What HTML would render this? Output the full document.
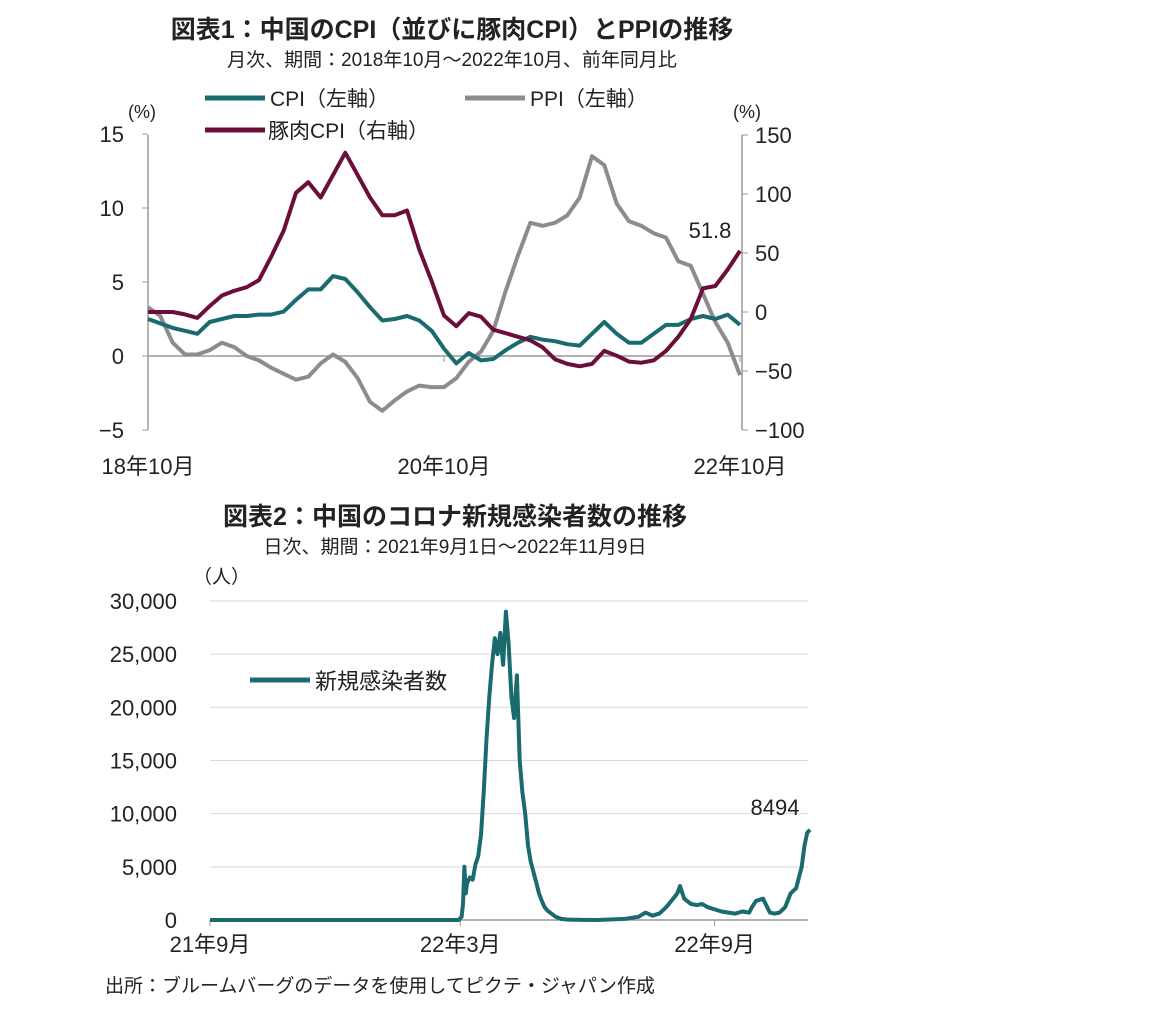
<!DOCTYPE html>
<html><head><meta charset="utf-8">
<style>
body{margin:0;background:#fff;}
svg text{font-family:"Liberation Sans","Noto Sans CJK JP",sans-serif;fill:#222;}
</style></head>
<body>
<svg id="svg" width="1152" height="1019" viewBox="0 0 1152 1019" xmlns="http://www.w3.org/2000/svg">
<text x="452" y="38" font-size="25" font-weight="bold" text-anchor="middle">図表1：中国のCPI（並びに豚肉CPI）とPPIの推移</text>
<text x="452" y="66" font-size="19" text-anchor="middle">月次、期間：2018年10月～2022年10月、前年同月比</text>
<line x1="205" y1="98" x2="265" y2="98" stroke="#1a6b6e" stroke-width="5"/>
<text x="270" y="106" font-size="21">CPI（左軸）</text>
<line x1="465" y1="98" x2="525" y2="98" stroke="#8c8c8c" stroke-width="5"/>
<text x="530" y="106" font-size="21">PPI（左軸）</text>
<line x1="205" y1="130" x2="265" y2="130" stroke="#6b0f3a" stroke-width="5"/>
<text x="268" y="138" font-size="21">豚肉CPI（右軸）</text>
<text x="128" y="118" font-size="18">(%)</text>
<text x="733" y="118" font-size="18">(%)</text>
<g id="c1"></g>
<text x="455" y="525" font-size="25" font-weight="bold" text-anchor="middle">図表2：中国のコロナ新規感染者数の推移</text>
<text x="455" y="553" font-size="19" text-anchor="middle">日次、期間：2021年9月1日～2022年11月9日</text>
<text x="193" y="583" font-size="19">（人）</text>
<line x1="250" y1="680" x2="310" y2="680" stroke="#1a6b6e" stroke-width="5"/>
<text x="315" y="689" font-size="22">新規感染者数</text>
<g id="c2"></g>
<text x="105" y="992" font-size="19">出所：ブルームバーグのデータを使用してピクテ・ジャパン作成</text>
</svg>
<script>
const months1 = 49;
const cpi = [2.5,2.2,1.9,1.7,1.5,2.3,2.5,2.7,2.7,2.8,2.8,3.0,3.8,4.5,4.5,5.4,5.2,4.3,3.3,2.4,2.5,2.7,2.4,1.7,0.5,-0.5,0.2,-0.3,-0.2,0.4,0.9,1.3,1.1,1.0,0.8,0.7,1.5,2.3,1.5,0.9,0.9,1.5,2.1,2.1,2.5,2.7,2.5,2.8,2.1];
const ppi = [3.3,2.7,0.9,0.1,0.1,0.4,0.9,0.6,0.0,-0.3,-0.8,-1.2,-1.6,-1.4,-0.5,0.1,-0.4,-1.5,-3.1,-3.7,-3.0,-2.4,-2.0,-2.1,-2.1,-1.5,-0.4,0.3,1.7,4.4,6.8,9.0,8.8,9.0,9.5,10.7,13.5,12.9,10.3,9.1,8.8,8.3,8.0,6.4,6.1,4.2,2.3,0.9,-1.3];
const pork = [0,0,0,-2,-5,5,14,18,21,27,47,69,101,110,97,116,135,116,97,82,82,86,53,26,-3,-12,-1,-4,-15,-18,-21,-24,-30,-40,-44,-46,-44,-33,-37,-42,-43,-41,-33,-21,-6,20,22,36,51.8];
const leftTicks = [15,10,5,0,-5];
const rightTicks = [150,100,50,0,-50,-100];
const xLabels1 = [{i:0,t:"18年10月"},{i:24,t:"20年10月"},{i:48,t:"22年10月"}];

const caseDays = [0,180,182,183,184,185,186,188,190,192,194,196,198,200,202,204,206,208,210,212,214,216,218,220,222,224,226,228,230,232,234,236,238,240,242,244,246,248,250,254,258,262,266,270,280,300,310,315,320,325,330,335,338,340,343,345,348,352,356,360,365,370,375,380,385,390,392,395,400,405,408,412,416,420,424,426,428,430,432,434];
const caseVals = [0,0,300,1500,5000,2500,3500,4000,3800,5200,6000,8000,12000,17000,21000,24000,26500,25000,27000,24000,29000,26000,21000,19000,23000,15000,12000,10000,7000,5500,4500,3500,2500,1800,1200,900,700,500,300,100,50,30,20,10,0,100,300,700,400,600,1200,2000,2500,3200,2000,1800,1500,1400,1500,1200,1000,800,700,600,800,700,1200,1800,2000,700,600,700,1200,2500,3000,4000,5000,7000,8200,8494];
const yTicks2 = [0,5000,10000,15000,20000,25000,30000];
const xLabels2 = [{d:0,t:"21年9月"},{d:181,t:"22年3月"},{d:365,t:"22年9月"}];

const NS="http://www.w3.org/2000/svg";
function mk(p,tag,a){const e=document.createElementNS(NS,tag);for(const k in a)e.setAttribute(k,a[k]);p.appendChild(e);return e;}
const X1=i=>148+i*(592/48);
const YL=v=>356-v*(74/5);
const YR=v=>312-v*(59/50);
const g1=document.getElementById('c1');
let e=mk(g1,'line',{x1:148,y1:YL(0),x2:742,y2:YL(0),stroke:'#999','stroke-width':1.5});


e=mk(g1,'line',{x1:148,y1:135,x2:148,y2:430,stroke:'#999','stroke-width':1.5});


e=mk(g1,'line',{x1:742,y1:135,x2:742,y2:430,stroke:'#999','stroke-width':1.5});


leftTicks.forEach(v=>{mk(g1,'line',{x1:142,y1:YL(v),x2:148,y2:YL(v),stroke:'#999'});
 const t=mk(g1,'text',{x:124,y:YL(v)+8,'font-size':22,'text-anchor':'end'});t.textContent=v<0?'−'+(-v):v;
 
 });
rightTicks.forEach(v=>{mk(g1,'line',{x1:742,y1:YR(v),x2:748,y2:YR(v),stroke:'#999'});
 const t=mk(g1,'text',{x:755,y:YR(v)+8,'font-size':22});t.textContent=v<0?'−'+(-v):v;
 
 });
xLabels1.forEach(o=>{mk(g1,'line',{x1:X1(o.i),y1:YL(0),x2:X1(o.i),y2:YL(0)+6,stroke:'#999'});
 const t=mk(g1,'text',{x:X1(o.i),y:474,'font-size':22,'text-anchor':'middle'});t.textContent=o.t;
 
 });
function line(g,arr,fx,fy,col,name){const d=arr.map((v,i)=>(i?'L':'M')+fx(i).toFixed(1)+','+fy(v).toFixed(1)).join('');
 const p=mk(g,'path',{d:d,fill:'none',stroke:col,'stroke-width':4,'stroke-linejoin':'round'});
 
 }
line(g1,ppi,X1,YL,'#8c8c8c','ppi-line');
line(g1,cpi,X1,YL,'#1a6b6e','cpi-line');
line(g1,pork,X1,YR,'#6b0f3a','pork-cpi-line');
let lb=mk(g1,'text',{x:710,y:238,'font-size':22,'text-anchor':'middle'});lb.textContent=pork[pork.length-1];


const X2=d=>210+d*(600/434);
const Y2=v=>920-v*(319/30000);
const g2=document.getElementById('c2');
yTicks2.forEach(v=>{const l=mk(g2,'line',{x1:210,y1:Y2(v),x2:808,y2:Y2(v),stroke:v?'#d9d9d9':'#999','stroke-width':v?1:1.5});
 
 
 const t=mk(g2,'text',{x:177,y:Y2(v)+8,'font-size':22,'text-anchor':'end'});t.textContent=v.toLocaleString('en-US');
 
 });
xLabels2.forEach(o=>{mk(g2,'line',{x1:X2(o.d),y1:920,x2:X2(o.d),y2:926,stroke:'#999'});
 const t=mk(g2,'text',{x:X2(o.d),y:952,'font-size':22,'text-anchor':'middle'});t.textContent=o.t;
 
 });
const d2=caseVals.map((v,i)=>(i?'L':'M')+X2(caseDays[i]).toFixed(1)+','+Y2(v).toFixed(1)).join('');
const p2=mk(g2,'path',{d:d2,fill:'none',stroke:'#1a6b6e','stroke-width':4,'stroke-linejoin':'round'});


lb=mk(g2,'text',{x:775,y:815,'font-size':22,'text-anchor':'middle'});lb.textContent=caseVals[caseVals.length-1];


</script>
</body></html>
